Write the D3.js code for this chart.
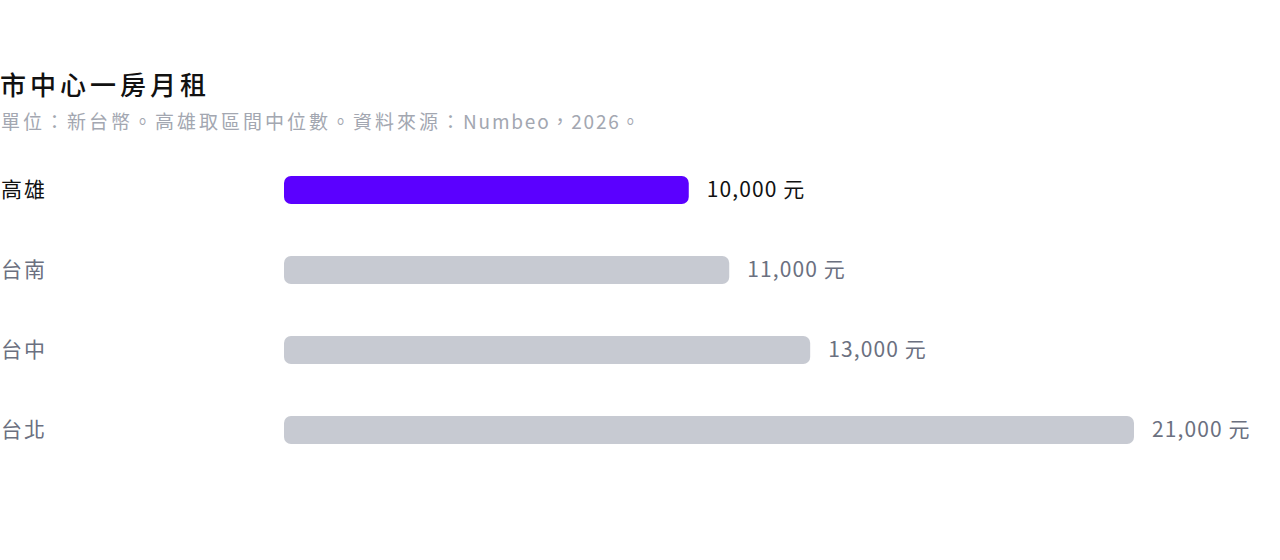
<!DOCTYPE html>
<html>
<head>
<meta charset="utf-8">
<script src="https://cdn.jsdelivr.net/npm/d3@7"></script>
<style>
  body { margin: 0; background: #fff; }
  svg text { font-family: "Noto Sans CJK TC", "Noto Sans", sans-serif; }
</style>
</head>
<body>
<svg id="chart" width="1280" height="560"></svg>
<script>
// rent data, NT$ per month
const cities = ["高雄", "台南", "台中", "台北"];
const rents = [10000, 11000, 13000, 21000];
const highlight = "高雄";

const width = 1280, height = 560;
const margin = {left: 284, top: 150};
const svg = d3.select("#chart");

// title + subtitle
svg.append("text")
    .attr("x", 0).attr("y", 95)
    .attr("fill", "#111")
    .attr("font-size", 26)
    .attr("font-weight", 500)
    .attr("letter-spacing", 4)
    .text("市中心一房月租");

const sub = svg.append("text")
    .attr("x", 1).attr("y", 129)
    .attr("fill", "#a3a7b1")
    .attr("font-size", 19);
sub.append("tspan")
    .attr("letter-spacing", 3)
    .text("單位：新台幣。高雄取區間中位數。資料來源：");
sub.append("tspan")
    .attr("letter-spacing", 1.8)
    .text("Numbeo，2026。");

const x = d3.scaleLinear()
    .domain([0, 21000])
    .range([margin.left, 1134]);

const y = d3.scaleBand()
    .domain(cities)
    .range([margin.top, margin.top + 320])
    .paddingInner(0.65)
    .paddingOuter(0.325);

const rows = svg.append("g")
    .selectAll("g")
    .data(cities)
    .join("g");

rows.append("rect")
    .attr("x", x(0))
    .attr("y", d => y(d))
    .attr("width", (d, i) => x(rents[i]) - x(0))
    .attr("height", y.bandwidth())
    .attr("rx", 7)
    .attr("fill", d => d === highlight ? "#5b00ff" : "#c7cad2");

// city labels
rows.append("text")
    .attr("x", 1)
    .attr("y", d => y(d) + y.bandwidth() / 2)
    .attr("dy", "0.35em")
    .attr("font-size", 21)
    .attr("letter-spacing", 2)
    .attr("fill", d => d === highlight ? "#111" : "#6b7080")
    .text(d => d);

// value labels
rows.append("text")
    .attr("x", (d, i) => x(rents[i]) + 18)
    .attr("y", d => y(d) + y.bandwidth() / 2)
    .attr("dy", "0.35em")
    .attr("font-size", 21)
    .attr("letter-spacing", 1.1)
    .attr("fill", d => d === highlight ? "#111" : "#6b7080")
    .text((d, i) => d3.format(",")(rents[i]) + " 元");
</script>
</body>
</html>
